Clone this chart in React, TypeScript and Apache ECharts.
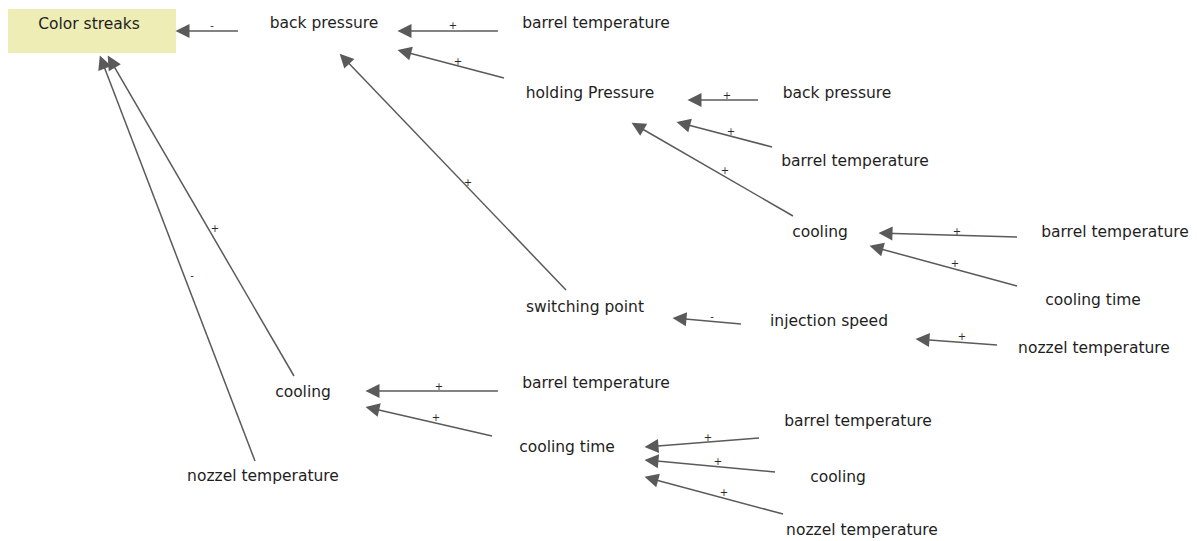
import React, { useEffect, useRef } from "react";
import * as echarts from "echarts";

// Node labels and their positions (diagram coordinates, y grows downward)
const nodeNames = [
  "Color streaks", "back pressure", "barrel temperature", "holding Pressure",
  "back pressure", "barrel temperature", "cooling", "barrel temperature",
  "cooling time", "switching point", "injection speed", "nozzel temperature",
  "cooling", "barrel temperature", "cooling time", "barrel temperature",
  "cooling", "nozzel temperature", "nozzel temperature",
];
const nodeX = [89, 324, 596, 590, 837, 855, 820, 1115, 1093, 585, 829, 1094, 303, 596, 567, 858, 838, 862, 263];
const nodeY = [24, 23, 23, 93, 93, 161, 232, 232, 300, 307, 321, 348, 392, 383, 447, 421, 477, 530, 476];

// Highlighted effect box (around "Color streaks"), diagram coordinates
const effectBox = [[8, 9], [176, 53]];

// Edges: tail (x1,y1) -> arrow tip (x2,y2), with sign label and its position
const edgeX1 = [238, 498, 504, 566, 294, 255, 758, 772, 793, 1017, 1017, 741, 997, 498, 492, 759, 775, 783];
const edgeY1 = [31, 31, 78, 290, 376, 461, 100, 147, 216, 237, 286, 324, 345, 391, 436, 438, 472, 514];
const edgeX2 = [176, 398, 398, 340, 108, 100, 688, 677, 632, 879, 870, 673, 916, 366, 366, 645, 645, 645];
const edgeY2 = [31, 31, 50, 54, 56, 56, 100, 122, 123, 233, 246, 318, 339, 391, 407, 447, 460, 477];
const edgeSigns = ["-", "+", "+", "+", "+", "-", "+", "+", "+", "+", "+", "-", "+", "+", "+", "+", "+", "+"];
const signX = [212, 453, 458, 468, 215, 192, 727, 731, 725, 957, 955, 712, 962, 439, 436, 708, 718, 724];
const signY = [25, 25, 61, 182, 228, 275, 95, 131, 170, 231, 263, 316, 336, 386, 417, 437, 461, 492];

const W = 1197;
const H = 541;
const ARROW_LEN = 13;

export default function App() {
  const ref = useRef<HTMLDivElement>(null);
  useEffect(() => {
    document.body.style.margin = "0";
    if (!ref.current) return;
    const chart = echarts.init(ref.current, null, { renderer: "svg" });

    const lineData = edgeX1.map((x1, i) => {
      const x2 = edgeX2[i];
      const y2 = edgeY2[i];
      const y1 = edgeY1[i];
      const dx = x2 - x1;
      const dy = y2 - y1;
      const len = Math.sqrt(dx * dx + dy * dy);
      const k = (ARROW_LEN / 2) / len;
      return { coords: [[x1, y1], [x2 - dx * k, y2 - dy * k]] };
    });

    const nodeData = nodeNames.map((n, i) => ({ name: n, value: [nodeX[i], nodeY[i]] }));
    const signData = edgeSigns.map((s, i) => ({ name: s, value: [signX[i], signY[i]] }));

    chart.setOption({
      animation: false,
      backgroundColor: "#ffffff",
      grid: { left: 0, top: 0, width: W, height: H },
      xAxis: { type: "value", min: 0, max: W, show: false },
      yAxis: { type: "value", min: 0, max: H, inverse: true, show: false },
      series: [
        {
          type: "lines",
          coordinateSystem: "cartesian2d",
          symbol: ["none", "triangle"],
          symbolSize: [13, ARROW_LEN + 1],
          lineStyle: { color: "#5a5a5a", width: 1.5, opacity: 1 },
          itemStyle: { color: "#3c3c3c" },
          data: lineData,
          silent: true,
          z: 2,
        },
        {
          type: "scatter",
          symbolSize: 0,
          itemStyle: { color: "#222222", opacity: 1 },
          data: nodeData,
          label: {
            show: true,
            position: "inside",
            formatter: (p: any) => p.name,
            fontFamily: "DejaVu Sans",
            fontSize: 15.5,
            color: "#1e1e1e",
            opacity: 1,
            textBorderWidth: 0,
          },
          markArea: {
            silent: true,
            itemStyle: { color: "#ededb5", opacity: 1 },
            label: { show: false },
            data: [[{ coord: effectBox[0] }, { coord: effectBox[1] }]],
            z: 1,
          },
          silent: true,
          z: 3,
        },
        {
          type: "scatter",
          symbolSize: 0,
          itemStyle: { color: "#333333", opacity: 1 },
          data: signData,
          label: {
            show: true,
            position: "inside",
            formatter: (p: any) => p.name,
            fontFamily: "DejaVu Sans",
            fontSize: 10,
            color: "#2a2a2a",
            opacity: 1,
            textBorderWidth: 0,
          },
          silent: true,
          z: 3,
        },
      ],
    });
    return () => chart.dispose();
  }, []);
  return <div ref={ref} style={{ width: W, height: H }} />;
}
